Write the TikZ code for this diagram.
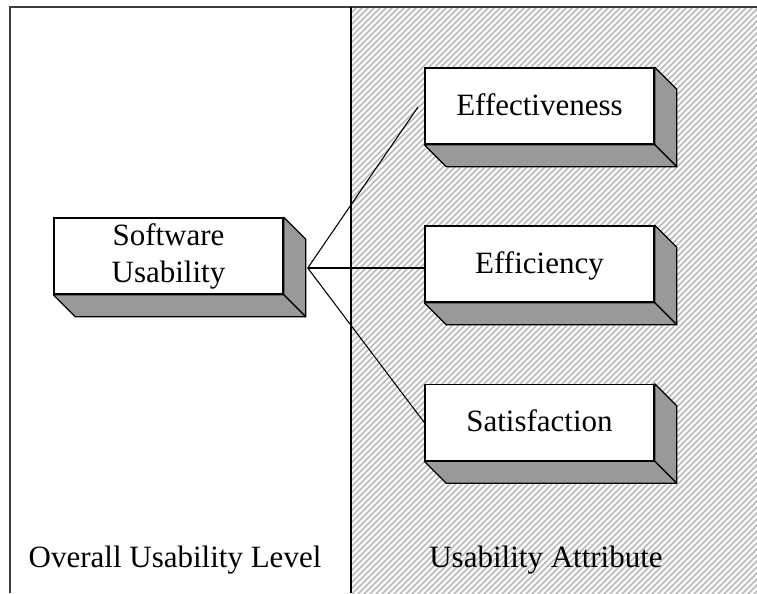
\documentclass[tikz,border=0pt]{standalone}
\usepackage{fontspec}
\setmainfont{Liberation Serif}
\usetikzlibrary{calc}
\definecolor{shadec}{RGB}{153,153,153}
\definecolor{hatchc}{RGB}{185,185,185}
\definecolor{framec}{RGB}{60,60,60}
\begin{document}
\begin{tikzpicture}[x=0.75pt,y=-0.75pt,
  every node/.style={font=\fontsize{23.25}{27.75}\selectfont},
  front/.style={draw=black, line width=1.1pt, fill=white, inner sep=0pt,
    minimum width=171.75pt, minimum height=57pt},
  attrbox/.style={front, text height=16pt, text depth=2.5pt},
  shadowface/.style={draw=black, line width=0.9pt, fill=shadec, line join=round},
  hatch/.style={draw=hatchc, line width=1.1pt},
  conn/.style={draw=black, line width=0.8pt}]
\useasboundingbox (0,0) rectangle (757,593);
% hatched right panel
\begin{scope}
  \clip (351,7) rectangle (757,593);
  \foreach \i in {-260,-254,...,770}
    \draw[hatch] (\i,600) -- ++(620,-620);
\end{scope}
% frame and divider
\draw[framec, line width=1.6pt] (10,593) |- (757,7);
\draw[black, line width=1pt] (351,7) -- (351,593);
% boxes (front faces)
\node[front, minimum width=171.75pt, align=center] (sw) at (168.5,256) {Software\\Usability};
\node[attrbox] (eff) at (539.5,106) {Effectiveness};
\node[attrbox] (effi) at (539.5,264) {Efficiency};
\node[attrbox] (sat) at (539.5,422.5) {Satisfaction};
% 3D sides
\foreach \b in {sw,eff,effi,sat}{
  \filldraw[shadowface] (\b.north east) -- ++(22,22) -- ($(\b.south east)+(22,22)$) -- (\b.south east) -- cycle;
  \filldraw[shadowface] (\b.south west) -- ++(22,22) -- ($(\b.south east)+(22,22)$) -- (\b.south east) -- cycle;
}
% connectors
\coordinate (j) at ($(sw.east)+(24,12)$);
\coordinate (effend) at (418,107);
\draw[conn] (j) -- (effend);
\draw[conn] (j) -- (j -| effi.west);
\draw[conn] (j) -- (sat.west);
% panel labels
\node[anchor=base] (lvl) at (175,567) {Overall Usability Level};
\node[anchor=base] (attr) at (546,567) {Usability Attribute};
\end{tikzpicture}
\end{document}
